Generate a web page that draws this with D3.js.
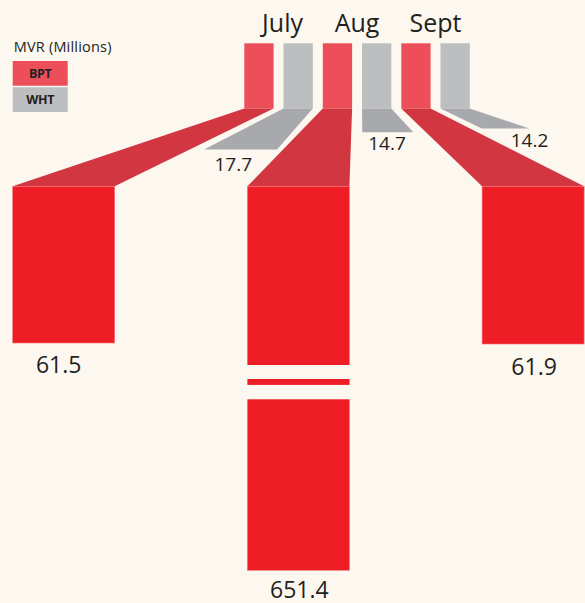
<!DOCTYPE html>
<html>
<head>
<meta charset="utf-8">
<script src="https://cdn.jsdelivr.net/npm/d3@7"></script>
<style>
  html, body { margin: 0; padding: 0; background: #fcf7ef; }
  svg { display: block; }
  text { font-family: "Open Sans", "Noto Sans", sans-serif; fill: #231f20; }
</style>
</head>
<body>
<svg id="chart" width="585" height="603"></svg>
<script>
// ---- data ----
const months = ["July", "Aug", "Sept"];
const series = ["BPT", "WHT"];
const bptValues = [61.5, 651.4, 61.9];
const whtValues = [17.7, 14.7, 14.2];
const legendTitle = "MVR (Millions)";

// ---- style ----
const C = {
  bg: "#fcf7ef",
  bptTop: "#ec4f5a",
  bptConn: "#d23641",
  bptBar: "#ee1d26",
  whtTop: "#bdbec0",
  whtConn: "#a8a9ac",
  text: "#231f20"
};

const svg = d3.select("#chart");
svg.append("rect").attr("width", 585).attr("height", 603).attr("fill", C.bg);

// ---- scales ----
const xMonth = d3.scaleBand().domain(months).range([244.3, 479.8]).paddingInner(0).paddingOuter(0);
const xSeries = d3.scaleBand().domain(series).range([0, 68.5]).paddingInner(0.2526).paddingOuter(0);
const topY0 = 43.3, topY1 = 108.5;

const xBig = d3.scaleBand().domain(months).range([12.7, 584.1]).paddingInner(0.5654).paddingOuter(0);
const bigTop = 186.3;
const yVal = d3.scaleLinear().domain([0, 61.5]).range([0, 156.7]);
const capValue = 150.7; // values above are drawn with a broken bar

// WHT connector end geometry (layout)
const whtEnd = {
  July: { y: 149.5, x0: 204, x1: 277 },
  Aug:  { y: 132.3, x0: 362.3, x1: 413.3 },
  Sept: { y: 128.5, x0: 481.7, x1: 529.3 }
};
const whtLabelPos = {
  July: { dx: 233.3, dy: 171 },
  Aug:  { dx: 387, dy: 150 },
  Sept: { dx: 529.5, dy: 146.7 }
};

// ---- month headers ----
svg.selectAll("text.month").data(months).enter().append("text")
  .attr("class", "month")
  .attr("x", m => xMonth(m) + 34.25 + (m === "July" ? 4 : 0))
  .attr("y", 31.5)
  .attr("text-anchor", "middle")
  .attr("font-size", 25)
  .text(m => m);

// ---- BPT ----
months.forEach((m, i) => {
  const tx0 = xMonth(m) + xSeries("BPT");
  const tx1 = tx0 + xSeries.bandwidth();
  const bx0 = xBig(m), bx1 = bx0 + xBig.bandwidth();
  svg.append("rect").attr("x", tx0).attr("y", topY0)
    .attr("width", tx1 - tx0).attr("height", topY1 - topY0).attr("fill", C.bptTop);
  svg.append("polygon")
    .attr("points", [[tx0, topY1], [tx1, topY1], [bx1, bigTop], [bx0, bigTop]].map(p => p.join(",")).join(" "))
    .attr("fill", C.bptConn);
  const v = bptValues[i];
  const h = yVal(Math.min(v, capValue));
  svg.append("rect").attr("x", bx0).attr("y", bigTop)
    .attr("width", bx1 - bx0).attr("height", h)
    .attr("fill", C.bptBar).attr("stroke", "#f5747a").attr("stroke-width", 0.6);
  if (v > capValue) {
    [[178.7, 14], [198.6, 14.4]].forEach(([off, gh]) => {
      svg.append("rect").attr("x", bx0 - 2).attr("y", bigTop + off)
        .attr("width", bx1 - bx0 + 4).attr("height", gh).attr("fill", C.bg);
    });
  }
  svg.append("text")
    .attr("x", (bx0 + bx1) / 2 + (m === "July" ? -5 : 1))
    .attr("y", Math.min(bigTop + h + (m === "Sept" ? 31 : 29.5), 597.5))
    .attr("text-anchor", "middle")
    .attr("font-size", 23)
    .text(d3.format(".1f")(v));
});

// ---- WHT ----
months.forEach((m, i) => {
  const tx0 = xMonth(m) + xSeries("WHT");
  const tx1 = tx0 + xSeries.bandwidth();
  const e = whtEnd[m];
  svg.append("rect").attr("x", tx0).attr("y", topY0)
    .attr("width", tx1 - tx0).attr("height", topY1 - topY0).attr("fill", C.whtTop);
  svg.append("polygon")
    .attr("points", [[tx0, topY1], [tx1, topY1], [e.x1, e.y], [e.x0, e.y]].map(p => p.join(",")).join(" "))
    .attr("fill", C.whtConn);
  const lp = whtLabelPos[m];
  svg.append("text")
    .attr("x", lp.dx).attr("y", lp.dy)
    .attr("text-anchor", "middle")
    .attr("font-size", 19)
    .text(d3.format(".1f")(whtValues[i]));
});

// ---- legend ----
const lg = svg.append("g").attr("transform", "translate(12.7,0)");
lg.append("text").attr("x", 1).attr("y", 51.5).attr("font-size", 14.5).attr("letter-spacing", 0.2).text(legendTitle);
const legY = d3.scaleBand().domain(series).range([61, 112]).paddingInner(0.06);
series.forEach(s => {
  lg.append("rect").attr("x", 0).attr("y", legY(s))
    .attr("width", 55).attr("height", legY.bandwidth())
    .attr("fill", s === "BPT" ? C.bptTop : C.whtTop);
  lg.append("text").attr("x", 27.5).attr("y", legY(s) + legY.bandwidth() / 2 + 4.5)
    .attr("text-anchor", "middle").attr("font-size", 12.5).attr("font-weight", "bold")
    .attr("letter-spacing", -0.3)
    .text(s);
});
</script>
</body>
</html>
